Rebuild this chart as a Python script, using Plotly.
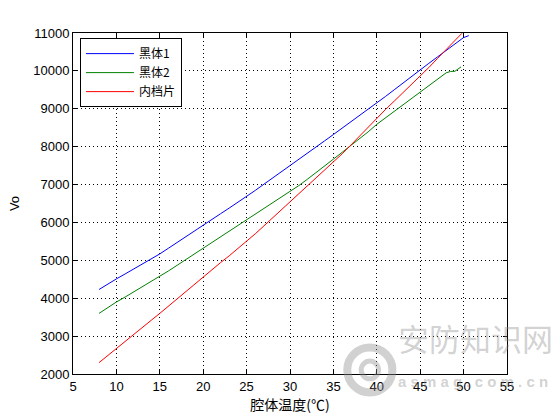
import plotly.graph_objects as go

# 腔体温度 (x) and Vo readings for each source
x_hei1 = [8, 9, 10, 11, 12, 13, 14, 15, 16, 17, 18, 19, 20, 21, 22, 23, 24, 25,
          26, 27, 28, 29, 30, 31, 32, 33, 34, 35, 36, 37, 38, 39, 40, 41, 42, 43,
          44, 45, 46, 47, 48, 49, 50, 50.6]
vo_hei1 = [4230, 4380, 4510, 4640, 4770, 4900, 5035, 5170, 5320, 5475, 5625, 5780,
           5930, 6080, 6230, 6380, 6530, 6680, 6845, 7010, 7170, 7335, 7500, 7665,
           7830, 7990, 8155, 8320, 8485, 8650, 8820, 8985, 9150, 9325, 9500, 9680,
           9855, 10030, 10200, 10370, 10540, 10710, 10880, 10930]

x_hei2 = [8, 9, 10, 11, 12, 13, 14, 15, 16, 17, 18, 19, 20, 21, 22, 23, 24, 25,
          26, 27, 28, 29, 30, 31, 32, 33, 34, 35, 36, 37, 38, 39, 40, 41, 42, 43,
          44, 45, 46, 47, 48, 48.5, 49, 49.7]
vo_hei2 = [3600, 3760, 3900, 4030, 4165, 4300, 4435, 4570, 4720, 4870, 5020, 5170,
           5320, 5470, 5615, 5765, 5910, 6060, 6205, 6355, 6500, 6650, 6810, 6970,
           7140, 7310, 7490, 7670, 7850, 8030, 8200, 8390, 8590, 8760, 8930, 9100,
           9270, 9440, 9610, 9780, 9950, 9985, 9990, 10106]

x_neidang = [8, 9, 10, 11, 12, 13, 14, 15, 16, 17, 18, 19, 20, 21, 22, 23, 24, 25,
             26, 27, 28, 29, 30, 31, 32, 33, 34, 35, 36, 37, 38, 39, 40, 41, 42, 43,
             44, 45, 46, 47, 48, 49, 49.8]
vo_neidang = [2300, 2490, 2680, 2865, 3050, 3230, 3415, 3600, 3795, 3990, 4180, 4375,
              4570, 4755, 4940, 5120, 5305, 5490, 5700, 5910, 6120, 6330, 6540, 6750,
              6960, 7170, 7380, 7590, 7810, 8040, 8280, 8520, 8760, 8980, 9200, 9420,
              9640, 9860, 10090, 10330, 10570, 10800, 10990]

x_ticks = [5, 10, 15, 20, 25, 30, 35, 40, 45, 50, 55]
y_ticks = [2000, 3000, 4000, 5000, 6000, 7000, 8000, 9000, 10000, 11000]
y_ticktext = ['2000', '3000', '4000', '5000', '6000', '7000', '8000', '9000', '10000', '11000']

cjk = "Noto Sans CJK SC"
latin = "Liberation Sans"

fig = go.Figure()
fig.add_trace(go.Scatter(x=x_hei1, y=vo_hei1, mode='lines', name='黑体1',
                         line=dict(color='#0000ff', width=1)))
fig.add_trace(go.Scatter(x=x_hei2, y=vo_hei2, mode='lines', name='黑体2',
                         line=dict(color='#008000', width=1)))
fig.add_trace(go.Scatter(x=x_neidang, y=vo_neidang, mode='lines', name='内档片',
                         line=dict(color='#ff0000', width=1)))

axis_style = dict(
    showline=True, linecolor='black', linewidth=1, mirror='ticks',
    ticks='inside', ticklen=4, tickcolor='black',
    showgrid=True, gridcolor='black', gridwidth=1, griddash='1px,3px',
    zeroline=False, automargin=False,
    tickfont=dict(family=latin, size=13, color='black'),
)

fig.update_xaxes(range=[5, 55], tickvals=x_ticks, **axis_style,
                 title=dict(text='腔体温度(℃)', font=dict(family=cjk, size=14, color='black'),
                            standoff=0))
fig.update_yaxes(range=[2000, 11000], tickvals=y_ticks, ticktext=y_ticktext, **axis_style,
                 title=dict(text='Vo', font=dict(family=latin, size=13, color='black'),
                            standoff=10))

# faint site watermark in the lower right corner
wm = 'rgba(140,140,140,0.4)'
fig.add_shape(type='circle', xref='paper', yref='paper', layer='above',
              x0=0.684 - 0.052, x1=0.684 + 0.052, y0=0.012 - 0.066, y1=0.012 + 0.066,
              line=dict(color=wm, width=8))
fig.add_shape(type='circle', xref='paper', yref='paper', layer='above',
              x0=0.684 - 0.02, x1=0.684 + 0.02, y0=0.012 - 0.026, y1=0.012 + 0.026,
              line=dict(color=wm, width=5))
fig.add_annotation(xref='paper', yref='paper', x=0.927, y=0.035, xanchor='center',
                   text='安防知识网', showarrow=False,
                   font=dict(family=cjk, size=31, color=wm))
fig.add_annotation(xref='paper', yref='paper', x=0.922, y=-0.053, xanchor='center',
                   text='<b>a s m a g . c o m . c n</b>', showarrow=False,
                   font=dict(family=latin, size=15, color=wm))

fig.update_layout(
    width=560, height=420,
    margin=dict(l=73, r=53, t=33, b=46),
    paper_bgcolor='white', plot_bgcolor='white',
    showlegend=True,
    legend=dict(x=0.016, y=0.985, xanchor='left', yanchor='top',
                bgcolor='white', bordercolor='black', borderwidth=1,
                font=dict(family=cjk, size=12, color='black'),
                itemwidth=48, tracegroupgap=0),
)

# drop the default page margin so the figure sits at the window corner
fig.write_html("out.html", config={'displayModeBar': False},
               post_script="document.body.style.margin='0';")
